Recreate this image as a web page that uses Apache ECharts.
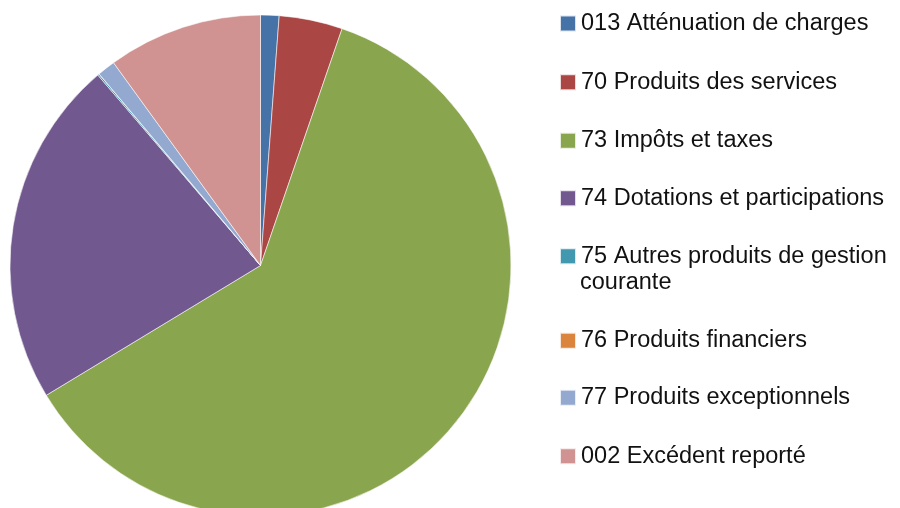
<!DOCTYPE html>
<html>
<head>
<meta charset="utf-8">
<script src="https://cdn.jsdelivr.net/npm/echarts@6/dist/echarts.min.js"></script>
<style>
html,body{margin:0;padding:0;background:#fff;}
#chart{width:900px;height:508px;}
</style>
</head>
<body>
<div id="chart"></div>
<script>
const categories = [
  "013 Atténuation de charges",
  "70 Produits des services",
  "73 Impôts et taxes",
  "74 Dotations et participations",
  "75 Autres produits de gestion courante",
  "76 Produits financiers",
  "77 Produits exceptionnels",
  "002 Excédent reporté"
];
const values = [1.19, 4.09, 61.05, 22.42, 0.1, 0.01, 1.16, 9.98];
const colors = ["#4572A7", "#AA4643", "#89A54E", "#71588F", "#4198AF", "#DB843D", "#93A9CF", "#D19392"];
const legendTops = [10.5, 69.3, 127.7, 185.3, 243.3, 327.7, 384.8, 443.2];
const wrapFirst = "75 Autres produits de gestion";
const wrapSecond = "courante";

const chart = echarts.init(document.getElementById('chart'), null, {renderer: 'canvas'});

const textStyle = {fontFamily: 'Liberation Sans', fontSize: 23.5, color: '#111', lineHeight: 26};

const legends = categories.map((name, i) => ({
  orient: 'vertical',
  left: 559,
  top: legendTops[i],
  padding: 0,
  itemWidth: 16,
  itemHeight: 16,
  icon: 'rect',
  selectedMode: false,
  data: [name],
  formatter: n => n === categories[4] ? wrapFirst : n,
  textStyle: textStyle
}));

chart.setOption({
  animation: false,
  color: colors,
  legend: legends,
  graphic: [{
    type: 'text',
    left: 580,
    top: legendTops[4] + 26,
    style: {
      text: wrapSecond,
      font: '23.5px "Liberation Sans"',
      fill: '#111',
      lineHeight: 26,
      height: 26,
      verticalAlign: 'top'
    }
  }],
  series: [{
    type: 'pie',
    center: [260.5, 265.5],
    radius: 250.5,
    startAngle: 90,
    clockwise: true,
    label: {show: false},
    labelLine: {show: false},
    emphasis: {disabled: true},
    itemStyle: {borderColor: 'rgba(255,255,255,0.8)', borderWidth: 0.7},
    data: categories.map((name, i) => ({name: name, value: values[i]}))
  }]
});
</script>
</body>
</html>
